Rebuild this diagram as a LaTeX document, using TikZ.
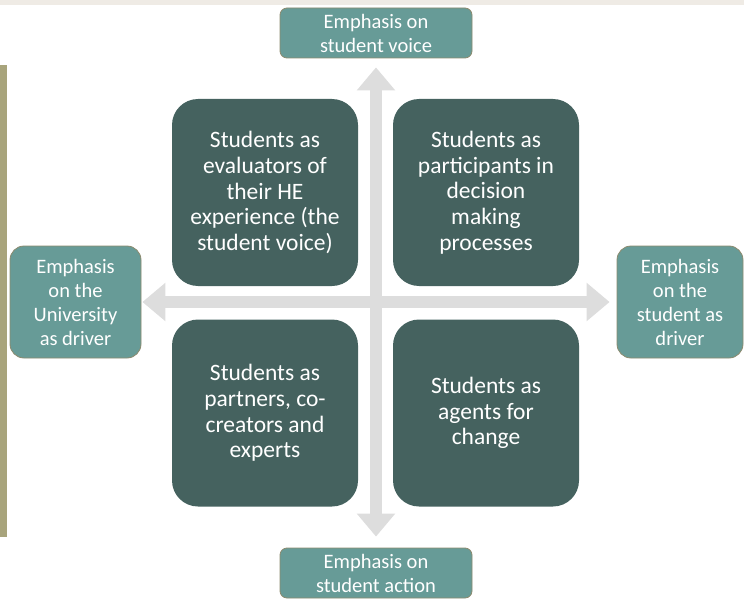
\documentclass[tikz,border=0pt]{standalone}
\usepackage{fontspec}
\setmainfont{Carlito}
\usetikzlibrary{arrows.meta}
\definecolor{outerfill}{HTML}{679B97}
\definecolor{outerdraw}{HTML}{8C8A6E}
\definecolor{quadfill}{HTML}{45625F}
\definecolor{arrowgray}{HTML}{DDDDDD}
\definecolor{topband}{HTML}{EFEBE5}
\definecolor{sidebar}{HTML}{A8A47C}
\tikzset{
  outerbox/.style={draw=outerdraw, line width=0.8pt, fill=outerfill, rounded corners=7pt, text=white, align=center, inner sep=0pt, font=\fontsize{20.5}{24}\selectfont},
  sidebox/.style={outerbox, rounded corners=14pt},
  quadbox/.style={fill=quadfill, rounded corners=26pt, text=white, align=center, inner sep=0pt, minimum width=186pt, minimum height=187pt, font=\fontsize{23.5}{25.7}\selectfont},
  bigarrow/.style={draw=arrowgray, line width=12pt, {Triangle[width=37pt,length=23pt]}-{Triangle[width=37pt,length=23pt]}}
}
\begin{document}
\begin{tikzpicture}[x=1pt,y=-1pt]
\useasboundingbox (0,0) rectangle (744,599);
\fill[topband] (0,0) rectangle (744,5);
\fill[sidebar] (0,65) rectangle (7,537);
\node[outerbox, minimum width=192pt, minimum height=50pt] (top) at (376,33) {Emphasis on\\student voice};
\node[outerbox, minimum width=192pt, minimum height=50pt] (bottom) at (376,573) {Emphasis on\\student action};
\node[sidebox, minimum width=131pt, minimum height=112pt] (left) at (75.5,302) {Emphasis\\on the\\University\\as driver};
\node[sidebox, minimum width=126pt, minimum height=112pt] (right) at (680,302) {Emphasis\\on the\\student as\\driver};
\draw[bigarrow, shorten <=9pt, shorten >=11pt] (top.south) -- (bottom.north);
\draw[bigarrow, shorten <=1pt, shorten >=7pt] (left.east) -- (right.west);
\node[quadbox] (tl) at (265,192.5) {Students as\\evaluators of\\their HE\\experience (the\\student voice)};
\node[quadbox] (tr) at (486,192.5) {Students as\\participants in\\decision\\making\\processes};
\node[quadbox] (bl) at (265,413) {Students as\\partners, co-\\creators and\\experts};
\node[quadbox] (br) at (486,413) {Students as\\agents for\\change};
\end{tikzpicture}
\end{document}
